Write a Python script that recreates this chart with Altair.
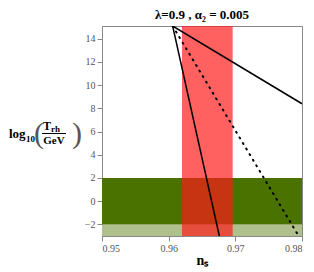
import altair as alt
import pandas as pd

# Bands
band_names = ["light", "dark"]
band_y1 = [-3.0, -2.0]
band_y2 = [-2.0, 2.0]
band_colors = ["#AFC08C", "#4A7200"]

red_x1 = [0.962]
red_x2 = [0.9696]

# Lines (start and end points)
line_ids = ["steep", "steep", "shallow", "shallow"]
line_x = [0.9606, 0.9676, 0.9606, 0.98]
line_y = [15.1, -3.0, 15.1, 8.4]

dot_x = [0.9606, 0.9795]
dot_y = [15.1, -3.0]

x_ticks = [0.95, 0.96, 0.97, 0.98]
y_ticks = [-2, 0, 2, 4, 6, 8, 10, 12, 14]

xdom = [0.95, 0.98]
ydom = [-3.0, 15.1]

FONT = "Liberation Serif"

bands = pd.DataFrame({"name": band_names, "y1": band_y1, "y2": band_y2,
                      "x1": [xdom[0]] * 2, "x2": [xdom[1]] * 2, "c": band_colors})
red = pd.DataFrame({"x1": red_x1, "x2": red_x2, "y1": [ydom[0]], "y2": [ydom[1]]})
lines = pd.DataFrame({"id": line_ids, "x": line_x, "y": line_y})
dots = pd.DataFrame({"x": dot_x, "y": dot_y})

xs = alt.Scale(domain=xdom, nice=False, zero=False)
ys = alt.Scale(domain=ydom, nice=False, zero=False)

xaxis = alt.Axis(values=x_ticks, format=".2f", grid=False, title="nₛ",
                 titleFont=FONT, titleFontSize=14, titleFontWeight="bold",
                 labelFont=FONT, labelFontSize=10, labelColor="#555555",
                 tickColor="#888888", domainColor="#888888", titlePadding=0)
yaxis = alt.Axis(values=y_ticks, grid=False, title=None, labelOverlap=False,
                 labelFont=FONT, labelFontSize=10, labelColor="#555555",
                 tickColor="#888888", domainColor="#888888")

band_layer = alt.Chart(bands).mark_rect().encode(
    x=alt.X("x1:Q", scale=xs, axis=xaxis),
    x2="x2:Q",
    y=alt.Y("y1:Q", scale=ys, axis=yaxis),
    y2="y2:Q",
    color=alt.Color("c:N", scale=None),
)

red_layer = alt.Chart(red).mark_rect(color="#FF1919", opacity=0.69).encode(
    x=alt.X("x1:Q", scale=xs, axis=xaxis), x2="x2:Q",
    y=alt.Y("y1:Q", scale=ys, axis=yaxis), y2="y2:Q",
)

line_layer = alt.Chart(lines).mark_line(color="black", strokeWidth=1.5, clip=True).encode(
    x=alt.X("x:Q", scale=xs, axis=xaxis), y=alt.Y("y:Q", scale=ys, axis=yaxis), detail="id:N",
)

dot_layer = alt.Chart(dots).mark_line(color="black", strokeWidth=2,
                                      strokeDash=[1, 5.5], strokeCap="round", clip=True).encode(
    x=alt.X("x:Q", scale=xs, axis=xaxis), y=alt.Y("y:Q", scale=ys, axis=yaxis),
)

# y-axis label built as a fraction: log10( T_rh / GeV )
one = pd.DataFrame({"k": [0]})


def label(text, x, y, size, weight="bold", align="left", baseline="alphabetic", color="black"):
    return alt.Chart(one).mark_text(text=text, font=FONT, fontSize=size, fontWeight=weight,
                                    align=align, baseline=baseline, color=color).encode(
        x=alt.value(x), y=alt.value(y))


ylab = [
    label("log", -93, 112, 13),
    label("10", -76, 116, 9),
    label("(", -63, 108, 30, weight="normal", align="center", baseline="middle", color="#555555"),
    label("T", -59, 104, 12),
    label("rh", -51, 106, 9),
    label("GeV", -48, 118, 11, align="center"),
    label(")", -25, 108, 30, weight="normal", align="center", baseline="middle", color="#555555"),
]
frac = alt.Chart(one).mark_rule(color="black", strokeWidth=1).encode(
    x=alt.value(-60), x2=alt.value(-36), y=alt.value(107.5))

chart = alt.layer(band_layer, red_layer, line_layer, dot_layer, *ylab, frac).properties(
    width=200, height=210,
    title=alt.TitleParams("λ=0.9 ,  α₂ = 0.005", font=FONT, fontSize=13,
                          fontWeight="bold", anchor="middle", offset=4),
    autosize=alt.AutoSizeParams(type="none"),
    padding={"left": 94, "top": 18, "right": 4, "bottom": 40},
).configure_view(stroke="#888888", strokeWidth=1).configure_axisY(labelOverlap=False)

chart.save("out.html", embed_options={"renderer": "svg", "actions": False})
